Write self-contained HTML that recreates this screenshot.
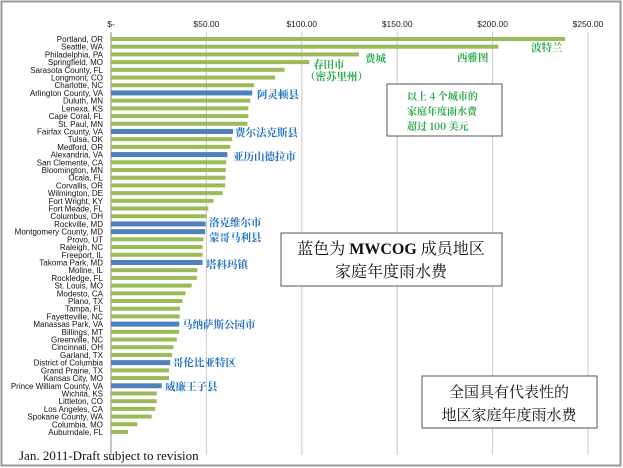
<!DOCTYPE html>
<html><head><meta charset="utf-8"><style>
body{margin:0;background:#fff;}
svg{display:block;font-family:"Liberation Sans","Noto Sans CJK SC",sans-serif;}
</style></head><body>
<svg id="c" width="623" height="468" viewBox="0 0 623 468">
<rect x="1.5" y="1.5" width="619" height="464" fill="#fff" stroke="#9a9a9a" stroke-width="2"/>
<g id="grid"></g><g id="bars"></g><g id="cats"></g><g id="ticks"></g>
<g font-family="'Noto Serif CJK SC','Noto Sans CJK SC',serif" font-weight="bold" font-size="10.5">
<text x="531" y="51" fill="#2aa84a">波特兰</text>
<text x="457" y="61" fill="#2aa84a">西雅图</text>
<text x="365" y="62" fill="#2aa84a">费城</text>
<text x="313" y="68" fill="#2aa84a">春田市</text>
<text x="305" y="80" fill="#2aa84a">（密苏里州）</text>
<text x="257" y="98" fill="#1f6fc0">阿灵顿县</text>
<text x="235" y="136" fill="#1f6fc0">费尔法克斯县</text>
<text x="233" y="160" fill="#1f6fc0">亚历山德拉市</text>
<text x="209" y="226" fill="#1f6fc0">洛克维尔市</text>
<text x="209" y="241" fill="#1f6fc0">蒙哥马利县</text>
<text x="206" y="268" fill="#1f6fc0">塔科玛镇</text>
<text x="182" y="328" fill="#1f6fc0">马纳萨斯公园市</text>
<text x="173" y="366" fill="#1f6fc0">哥伦比亚特区</text>
<text x="165" y="390" fill="#1f6fc0">威廉王子县</text>
</g>
<g>
<rect x="387" y="84" width="115" height="52" fill="#fff" stroke="#555" stroke-width="1"/>
<g font-family="'Noto Serif CJK SC',serif" font-weight="bold" font-size="10" fill="#2aa84a">
<text x="407" y="100">以上 4 个城市的</text>
<text x="407" y="115">家庭年度雨水费</text>
<text x="407" y="130">超过 100 美元</text></g>
</g>
<g>
<rect x="281" y="233" width="221" height="53" fill="#fff" stroke="#555" stroke-width="1"/>
<g font-family="'Liberation Serif','Noto Serif CJK SC',serif" font-size="16" fill="#111" text-anchor="middle">
<text x="391" y="254">蓝色为 <tspan font-weight="bold">MWCOG</tspan> 成员地区</text>
<text x="391" y="277">家庭年度雨水费</text></g>
</g>
<g>
<rect x="422" y="376" width="175" height="52" fill="#fff" stroke="#555" stroke-width="1"/>
<g font-family="'Noto Serif CJK SC',serif" font-size="15" fill="#111" text-anchor="middle">
<text x="509" y="397">全国具有代表性的</text>
<text x="509" y="420">地区家庭年度雨水费</text></g>
</g>
<text x="19" y="460" font-family="'Liberation Serif',serif" font-size="13" fill="#111">Jan. 2011-Draft subject to revision</text>
</svg>
<script>
const categories=["Portland, OR","Seattle, WA","Philadelphia, PA","Springfield,  MO","Sarasota County, FL","Longmont, CO","Charlotte, NC","Arlington County, VA","Duluth, MN","Lenexa, KS","Cape Coral, FL","St. Paul, MN","Fairfax County, VA","Tulsa, OK","Medford, OR","Alexandria, VA","San Clemente, CA","Bloomington, MN","Ocala, FL","Corvallis, OR","Wilmington, DE","Fort Wright, KY","Fort Meade, FL","Columbus, OH","Rockville, MD","Montgomery County, MD","Provo, UT","Raleigh, NC","Freeport, IL","Takoma Park, MD","Moline, IL","Rockledge, FL","St. Louis, MO","Modesto, CA","Plano, TX","Tampa, FL","Fayetteville, NC","Manassas Park, VA","Billings, MT","Greenville, NC","Cincinnati, OH","Garland, TX","District of Columbia","Grand Prairie, TX","Kansas City, MO","Prince William County, VA","Wichita, KS","Littleton, CO","Los Angeles, CA","Spokane County, WA","Columbia, MO","Auburndale, FL"];
const fees=[238,203,130,104,91,86,75,74,73,72,72,71.5,64,63.5,62.5,61,60.4,60.2,60,59.8,58.5,53.7,51,50,49.6,49.3,48.5,48,48,48,45.3,45,42.3,39,37.5,36.2,36,35.8,35.6,34.5,32.7,32,31,30.4,30.4,26.6,24,24,23.2,21.3,13.8,9];
const mwcog=[0,0,0,0,0,0,0,1,0,0,0,0,1,0,0,1,0,0,0,0,0,0,0,0,1,1,0,0,0,1,0,0,0,0,0,0,0,1,0,0,0,0,1,0,0,1,0,0,0,0,0,0];
const tickValues=[0,50,100,150,200,250];
const tickLabels=["$-","$50.00","$100.00","$150.00","$200.00","$250.00"];
const NS="http://www.w3.org/2000/svg";
const x0=111,x1=588,vmax=250,yTop=39,yBot=432;
const xs=v=>x0+(v/vmax)*(x1-x0);
const ys=i=>yTop+i*(yBot-yTop)/(categories.length-1);
function mk(t,a,p){const e=document.createElementNS(NS,t);for(const k in a)e.setAttribute(k,a[k]);p.appendChild(e);return e;}
const grid=document.getElementById('grid'),bars=document.getElementById('bars'),cats=document.getElementById('cats'),ticks=document.getElementById('ticks');
tickValues.forEach((v,i)=>{
 const l=mk('line',{x1:xs(v),x2:xs(v),y1:32,y2:455,stroke:i==0?'#888':'#c8c8c8','stroke-width':1},grid);
 
 
 const t=mk('text',{x:xs(v),y:27,'text-anchor':'middle','font-size':8.5,fill:'#222'},ticks);
 t.textContent=tickLabels[i];
 
 
});
categories.forEach((c,i)=>{
 const y=ys(i),h=mwcog[i]?5:4;
 const r=mk('rect',{x:x0,y:y-h/2,width:xs(fees[i])-x0,height:h,fill:mwcog[i]?'#4f81bd':'#9bbb59'},bars);
 
 
 const t=mk('text',{x:103,y:y+3,'text-anchor':'end','font-size':8,fill:'#111'},cats);
 t.textContent=c;
 
 
});
</script>
</body></html>
